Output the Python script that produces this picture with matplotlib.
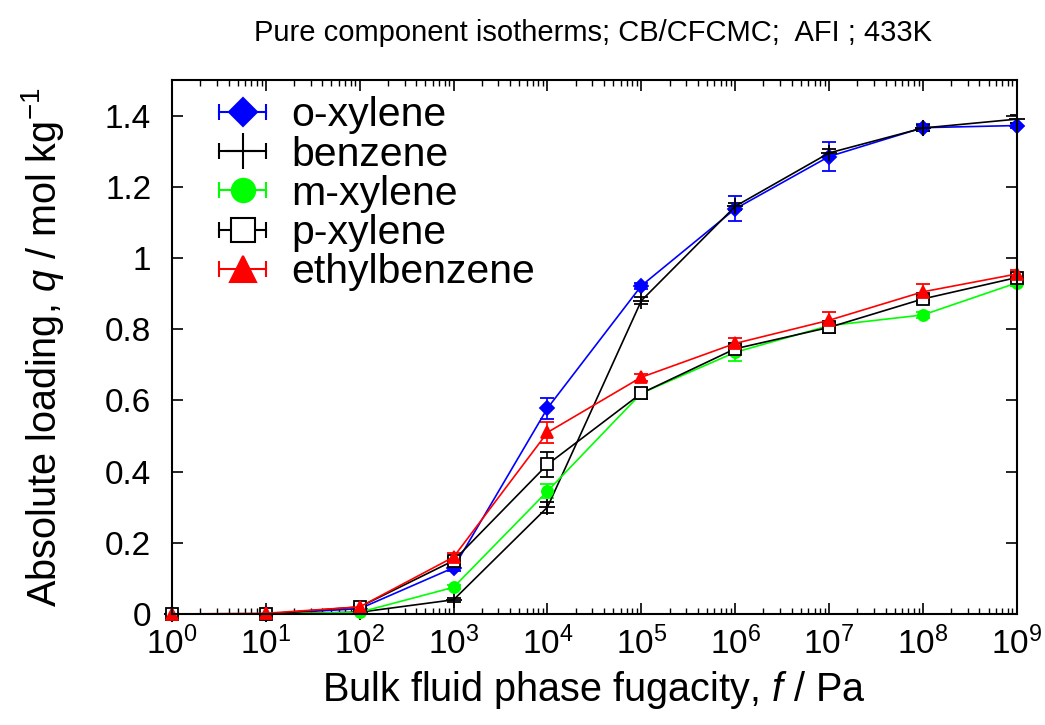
import numpy as np
import matplotlib
matplotlib.use("Agg")
import matplotlib.pyplot as plt
from matplotlib.lines import Line2D
from matplotlib.legend_handler import HandlerLine2D, HandlerTuple
from matplotlib.ticker import FuncFormatter, LogLocator

plt.rcParams['font.family'] = ['Liberation Sans', 'DejaVu Sans']
plt.rcParams['mathtext.fontset'] = 'custom'
plt.rcParams['mathtext.rm'] = 'Liberation Sans'
plt.rcParams['mathtext.it'] = 'Liberation Sans:italic'

# fugacity (Pa)
fug = [1e0, 1e1, 1e2, 1e3, 1e4, 1e5, 1e6, 1e7, 1e8, 1e9]

# loadings (mol/kg) and error estimates
o_xylene = [0.0, 0.0, 0.015, 0.13, 0.578, 0.922, 1.138, 1.285, 1.366, 1.372]
o_xylene_err = [0.0, 0.0, 0.005, 0.01, 0.03, 0.008, 0.035, 0.04, 0.01, 0.008]
benzene = [0.0, 0.0, 0.005, 0.04, 0.30, 0.88, 1.145, 1.295, 1.365, 1.39]
benzene_err = [0.0, 0.0, 0.003, 0.005, 0.015, 0.01, 0.01, 0.01, 0.008, 0.012]
m_xylene = [0.0, 0.0, 0.005, 0.075, 0.345, 0.62, 0.735, 0.81, 0.84, 0.93]
m_xylene_err = [0.0, 0.0, 0.003, 0.006, 0.02, 0.012, 0.025, 0.01, 0.008, 0.01]
p_xylene = [0.0, 0.0, 0.02, 0.15, 0.42, 0.62, 0.745, 0.805, 0.885, 0.945]
p_xylene_err = [0.0, 0.0, 0.004, 0.01, 0.035, 0.015, 0.01, 0.015, 0.012, 0.01]
ethylbenzene = [0.0, 0.002, 0.02, 0.16, 0.51, 0.665, 0.76, 0.825, 0.905, 0.955]
ethylbenzene_err = [0.0, 0.0, 0.005, 0.012, 0.03, 0.01, 0.015, 0.022, 0.022, 0.012]

series = [
    ("o-xylene", o_xylene, o_xylene_err, "#0000ff", "D", "#0000ff", 7),
    ("benzene", benzene, benzene_err, "black", "+", "black", 12),
    ("m-xylene", m_xylene, m_xylene_err, "#00ff00", "o", "#00ff00", 8),
    ("p-xylene", p_xylene, p_xylene_err, "black", "s", "white", 8),
    ("ethylbenzene", ethylbenzene, ethylbenzene_err, "#ff0000", "^", "#ff0000", 9),
]

fig = plt.figure(figsize=(10.45, 7.25), dpi=100)
ax = fig.add_axes([0.1646, 0.1531, 0.8084, 0.7366])

handles = []
hmap = {}
for name, y, err, col, mk, fc, ms in series:
    eb = ax.errorbar(fug, y, yerr=err, color=col, marker=mk, markersize=ms,
                     markerfacecolor=fc, markeredgecolor=col, markeredgewidth=1.3,
                     linewidth=1.2, elinewidth=1.2, capsize=5, capthick=1.2)
    eb[0].set_clip_on(False)
    caps = Line2D([], [], color=col, linewidth=1.5, marker='|', markersize=12,
                  markeredgewidth=1.5)
    mark = Line2D([], [], linestyle='none', marker=mk, markersize=ms * 2.1,
                  markerfacecolor=fc, markeredgecolor=col, markeredgewidth=1.5)
    hmap[caps] = HandlerLine2D(numpoints=2)
    hmap[mark] = HandlerLine2D(numpoints=1)
    handles.append((caps, mark))

hmap[tuple] = HandlerTuple(ndivide=1)
ax.legend(handles, [s[0] for s in series], handler_map=hmap,
          loc='upper left', frameon=False, fontsize=29.5, handlelength=1.75,
          handletextpad=0.3, labelspacing=0.03, borderaxespad=0.0,
          bbox_to_anchor=(0.022, 1.0))

ax.set_xscale('log')
ax.set_xlim(1e0, 1e9)
ax.set_ylim(0, 1.5)
ax.set_xticks(fug)
ax.xaxis.set_minor_locator(LogLocator(base=10, subs=np.arange(2, 10), numticks=20))
ax.set_yticks([0, 0.2, 0.4, 0.6, 0.8, 1.0, 1.2, 1.4])
ax.yaxis.set_major_formatter(FuncFormatter(lambda v, p: '%g' % v))
ax.tick_params(which='both', direction='in', top=True, right=True, labelsize=24)
ax.tick_params(which='major', length=8, width=1.2)
ax.tick_params(which='minor', length=4, width=1.0)
ax.tick_params(axis='x', which='major', pad=9)
ax.tick_params(axis='y', which='major', pad=15)
for sp in ax.spines.values():
    sp.set_linewidth(1.5)

ax.set_xlabel("Bulk fluid phase fugacity, $\\it{f}$ / Pa", fontsize=28.5, labelpad=6)
ax.set_ylabel("Absolute loading, $\\it{q}$ / mol kg$^{-1}$", fontsize=28.5, labelpad=28)
fig.text(0.567, 0.955, "Pure component isotherms; CB/CFCMC;  AFI ; 433K",
         ha='center', va='center', fontsize=21)

fig.savefig("out.png", dpi=100)
